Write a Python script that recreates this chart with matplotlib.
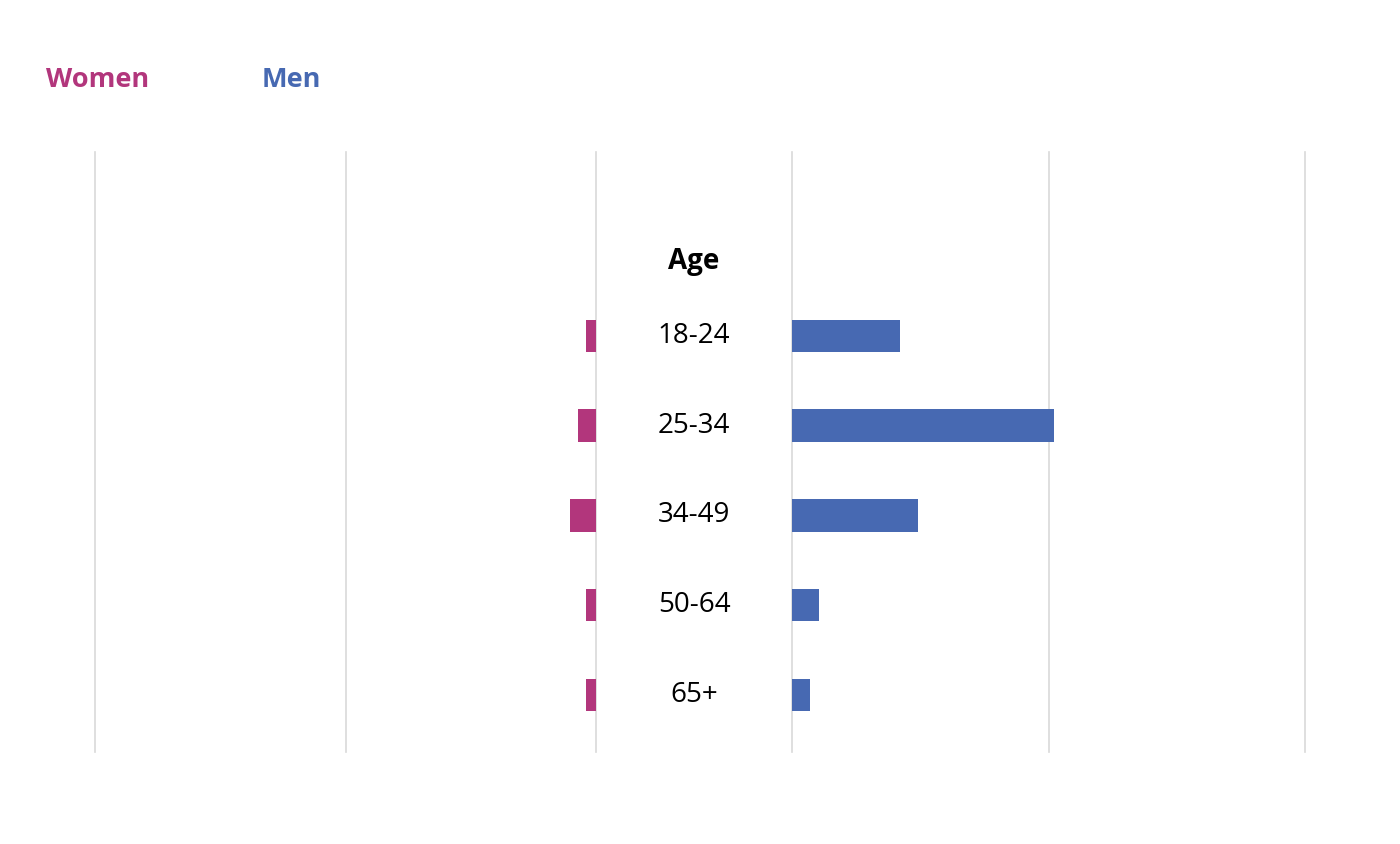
import matplotlib
matplotlib.use("Agg")
import matplotlib.pyplot as plt
import matplotlib.transforms as mtransforms

ages = ["18-24", "25-34", "34-49", "50-64", "65+"]
women = [0.8, 1.4, 2.1, 0.8, 0.8]
men = [8.4, 20.4, 9.8, 2.1, 1.4]

WOMEN_COLOR = "#b2367c"
MEN_COLOR = "#4769b2"
GRID_COLOR = "#d9d9d9"

plt.rcParams["font.family"] = ["Open Sans", "DejaVu Sans"]

fig = plt.figure(figsize=(14, 8.44), dpi=100)
top, bottom = 1 - 152 / 844, 1 - 752 / 844
ax_l = fig.add_axes([95 / 1400, bottom, (596 - 95) / 1400, top - bottom])
ax_r = fig.add_axes([792 / 1400, bottom, (1305 - 792) / 1400, top - bottom])

ypos = list(range(len(ages)))
ax_l.barh(ypos, women, height=0.36, color=WOMEN_COLOR)
ax_r.barh(ypos, men, height=0.36, color=MEN_COLOR)

ax_l.set_xlim(40, 0)
ax_r.set_xlim(0, 40)
for ax in (ax_l, ax_r):
    ax.set_ylim(4.633, -2.044)
    ax.set_xticks([0, 20, 40])
    ax.set_yticks([])
    ax.tick_params(axis="x", length=0, labelbottom=False)
    ax.grid(axis="x", color=GRID_COLOR, linewidth=1.2)
    ax.set_axisbelow(True)
    for line in ax.get_xgridlines():
        line.set_clip_on(False)
    for s in ax.spines.values():
        s.set_visible(False)

trans = mtransforms.blended_transform_factory(fig.transFigure, ax_l.transData)
cx = 694 / 1400
for i, a in enumerate(ages):
    ax_l.text(cx, i, a, transform=trans, ha="center", va="center",
              fontsize=20, color="black", clip_on=False)
ax_l.text(cx, -0.83, "Age", transform=trans, ha="center", va="center",
          fontsize=20, fontweight="bold", color="black", clip_on=False)

fig.text(46 / 1400, 1 - 80 / 844, "Women", color=WOMEN_COLOR, fontsize=19.5,
         fontweight="bold", ha="left", va="center")
fig.text(262 / 1400, 1 - 80 / 844, "Men", color=MEN_COLOR, fontsize=19.5,
         fontweight="bold", ha="left", va="center")

fig.savefig("out.png", dpi=100)
